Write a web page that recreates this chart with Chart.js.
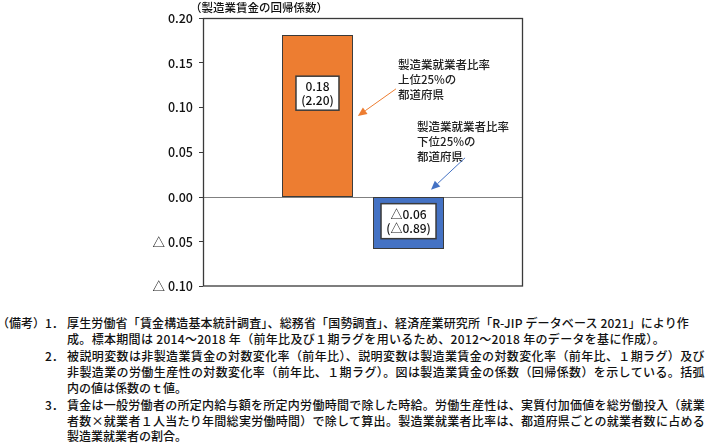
<!DOCTYPE html>
<html>
<head>
<meta charset="utf-8">
<title>製造業賃金の回帰係数</title>
<script src="https://cdn.jsdelivr.net/npm/chart.js@4"></script>
<style>
  body { margin: 0; background: #fff; }
  #wrap { position: relative; width: 709px; height: 443px; font-family: "Noto Sans CJK JP", sans-serif; color: #111; font-weight: 500; }
  canvas { position: absolute; left: 0; top: 0; }
  .nl { position: absolute; left: 0; height: 16px; font-size: 12px; line-height: 16px; white-space: nowrap; }
  .nl span { position: absolute; top: 0; white-space: nowrap; }
  .lab { left: -3px; }
  .num { left: 45px; }
  .tx { left: 67px; }
</style>
</head>
<body>
<div id="wrap">
  <canvas id="coefChart" width="709" height="300"></canvas>
  <div class="nl" style="top:315px"><span class="lab">（備考）</span><span class="num">1．</span><span class="tx" data-w="622">厚生労働省「賃金構造基本統計調査」、総務省「国勢調査」、経済産業研究所「R-JIP データベース 2021」により作</span></div>
  <div class="nl" style="top:331px"><span class="tx" data-w="598">成。標本期間は 2014～2018 年（前年比及び１期ラグを用いるため、2012～2018 年のデータを基に作成）。</span></div>
  <div class="nl" style="top:348px"><span class="num">2．</span><span class="tx" data-w="638">被説明変数は非製造業賃金の対数変化率（前年比）、説明変数は製造業賃金の対数変化率（前年比、１期ラグ）及び</span></div>
  <div class="nl" style="top:364px"><span class="tx" data-w="638">非製造業の労働生産性の対数変化率（前年比、１期ラグ）。図は製造業賃金の係数（回帰係数）を示している。括弧</span></div>
  <div class="nl" style="top:380px"><span class="tx">内の値は係数のｔ値。</span></div>
  <div class="nl" style="top:397px"><span class="num">3．</span><span class="tx" data-w="638">賃金は一般労働者の所定内給与額を所定内労働時間で除した時給。労働生産性は、実質付加価値を総労働投入（就業</span></div>
  <div class="nl" style="top:413px"><span class="tx" data-w="638">者数×就業者１人当たり年間総実労働時間）で除して算出。製造業就業者比率は、都道府県ごとの就業者数に占める</span></div>
  <div class="nl" style="top:428px"><span class="tx">製造業就業者の割合。</span></div>
</div>

<script>
// data
const categories = ['製造業賃金'];
const seriesNames = ['製造業就業者比率上位25%の都道府県', '製造業就業者比率下位25%の都道府県'];
const coefValues = [0.181, -0.058];
const coefLabels = ['0.18', '△0.06'];
const tValueLabels = ['(2.20)', '(△0.89)'];
const yMin = -0.10, yMax = 0.20, yStep = 0.05;

const FONT = '"Noto Sans CJK JP", sans-serif';
const orange = '#ED7D31', blue = '#4472C4', edge = '#3a3a3a';

// fit the note lines to the widths they have in the original
document.querySelectorAll('.tx[data-w]').forEach(el => {
    const target = +el.dataset.w;
    const n = [...el.textContent].length;
    const natural = el.getBoundingClientRect().width;
    el.style.letterSpacing = ((target - natural) / n) + 'px';
});

function fmtTick(v) {
    const r = Math.round(v * 100) / 100;
    if (r < 0) return '△ ' + Math.abs(r).toFixed(2);
    return r.toFixed(2);
}

function arrow(ctx, x1, y1, x2, y2, color) {
    const a = Math.atan2(y2 - y1, x2 - x1);
    const len = 9, half = 4;
    ctx.save();
    ctx.strokeStyle = color;
    ctx.fillStyle = color;
    ctx.lineWidth = 1;
    ctx.beginPath();
    ctx.moveTo(x1, y1);
    ctx.lineTo(x2 - len * Math.cos(a), y2 - len * Math.sin(a));
    ctx.stroke();
    ctx.beginPath();
    ctx.moveTo(x2, y2);
    ctx.lineTo(x2 - len * Math.cos(a) + half * Math.sin(a), y2 - len * Math.sin(a) - half * Math.cos(a));
    ctx.lineTo(x2 - len * Math.cos(a) - half * Math.sin(a), y2 - len * Math.sin(a) + half * Math.cos(a));
    ctx.closePath();
    ctx.fill();
    ctx.restore();
}

// label box placement (value units) and notes placement (fraction of plot width, value units)
const boxAt = [0.116, -0.027];
const boxSize = [[43, 34], [55, 35]];
const notesText = [
    { lines: ['製造業就業者比率', '上位25%の', '都道府県'], fx: 0.609, v: 0.1475, color: orange,
      from: [0.603, 0.1208], to: [0.484, 0.0906] },
    { lines: ['製造業就業者比率', '下位25%の', '都道府県'], fx: 0.669, v: 0.0784, color: blue,
      from: [0.819, 0.0438], to: [0.7125, 0.0081] }
];

const overlay = {
    id: 'overlay',
    afterDraw(chart) {
        const ctx = chart.ctx;
        const area = chart.chartArea;
        const y = chart.scales.y;
        const px = f => area.left + f * (area.right - area.left);

        ctx.save();
        // axis title
        ctx.fillStyle = '#111';
        ctx.font = '500 11.5px ' + FONT;
        ctx.textBaseline = 'middle';
        ctx.textAlign = 'left';
        ctx.fillText('（製造業賃金の回帰係数）', 190, 8);

        // plot frame
        ctx.strokeStyle = edge;
        ctx.lineWidth = 1.3;
        ctx.strokeRect(area.left + 0.5, area.top + 0.5, area.right - area.left - 1, area.bottom - area.top - 1);

        // value boxes
        chart.data.datasets.forEach((ds, i) => {
            const el = chart.getDatasetMeta(i).data[0];
            const cx = el.x, cy = y.getPixelForValue(boxAt[i]);
            const [w, h] = boxSize[i];
            ctx.fillStyle = '#fff';
            ctx.fillRect(cx - w / 2, cy - h / 2, w, h);
            ctx.strokeStyle = edge;
            ctx.lineWidth = 1.5;
            ctx.strokeRect(cx - w / 2, cy - h / 2, w, h);
            ctx.fillStyle = '#111';
            ctx.font = '500 12px ' + FONT;
            ctx.textAlign = 'center';
            ctx.textBaseline = 'middle';
            ctx.fillText(coefLabels[i], cx, cy - 7);
            ctx.fillText(tValueLabels[i], cx, cy + 7.5);
        });

        // series notes with arrows
        notesText.forEach(n => {
            ctx.fillStyle = '#222';
            ctx.font = '500 11.5px ' + FONT;
            ctx.textAlign = 'left';
            ctx.textBaseline = 'middle';
            const y0 = y.getPixelForValue(n.v);
            n.lines.forEach((t, k) => ctx.fillText(t, px(n.fx), y0 + k * 15));
            arrow(ctx, px(n.from[0]), y.getPixelForValue(n.from[1]),
                  px(n.to[0]), y.getPixelForValue(n.to[1]), n.color);
        });
        ctx.restore();
    }
};

const ctx = document.getElementById('coefChart').getContext('2d');
const coefChart = new Chart(ctx, {
    type: 'bar',
    data: {
        labels: categories,
        datasets: [{
            label: seriesNames[0],
            data: [coefValues[0]],
            backgroundColor: orange,
            borderColor: edge,
            borderWidth: 1,
            borderSkipped: false,
            categoryPercentage: 0.569,
            barPercentage: 0.78
        }, {
            label: seriesNames[1],
            data: [coefValues[1]],
            backgroundColor: blue,
            borderColor: edge,
            borderWidth: 1,
            borderSkipped: false,
            categoryPercentage: 0.569,
            barPercentage: 0.78
        }]
    },
    options: {
        responsive: false,
        animation: false,
        layout: { padding: { top: 18, right: 186, bottom: 13, left: 0 } },
        plugins: { legend: { display: false }, tooltip: { enabled: false } },
        scales: {
            x: { display: false },
            y: {
                min: yMin,
                max: yMax,
                afterFit(s) { s.width = 203; },
                border: { display: false },
                grid: {
                    drawOnChartArea: true,
                    color: c => (c.tick && Math.abs(c.tick.value) < 1e-9) ? '#808080' : 'rgba(0,0,0,0)',
                    tickColor: edge,
                    tickLength: 4,
                    lineWidth: 1
                },
                ticks: {
                    stepSize: yStep,
                    color: '#111',
                    padding: 6,
                    font: { family: FONT, size: 12.5, weight: 500 },
                    callback: v => fmtTick(v)
                }
            }
        }
    },
    plugins: [overlay]
});
</script>
</body>
</html>
